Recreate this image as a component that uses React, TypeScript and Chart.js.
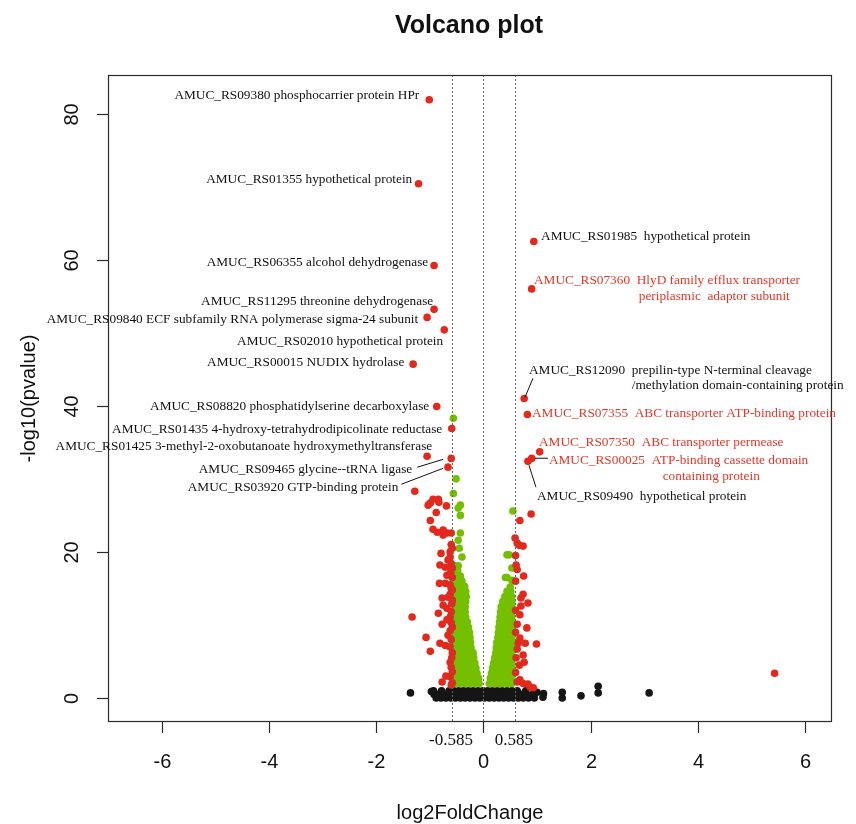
import React, { useEffect, useRef } from "react";
import { Chart, registerables } from "chart.js";

Chart.register(...registerables);

// ---------- data ----------
const xTicks = [-6, -4, -2, 0, 2, 4, 6];
const yTicks = [0, 20, 40, 60, 80];
const thresholds = [-0.585, 0, 0.585];
const thresholdTexts: [number, string][] = [
  [-0.585, "-0.585"],
  [0.585, "0.585"],
];

// red = |log2FC| > 0.585 and significant
const redPoints: [number, number][] = [
  [-1.01, 81.9], [-1.21, 70.4], [-0.92, 59.2], [-0.92, 53.2], [-1.05, 52.1], [-0.73, 50.4],
  [-1.31, 45.7], [-0.87, 39.9], [-0.59, 36.9], [-1.05, 33.1], [-0.6, 32.8], [-0.66, 31.6],
  [-1.28, 28.3],
  [0.94, 62.5], [0.9, 56.0], [0.76, 41.0], [0.82, 38.8], [1.05, 33.7], [0.9, 32.8], [0.83, 32.4],
  [-0.99, 26.7], [-0.94, 27.2], [-0.84, 27.2], [-0.83, 26.8], [-1.03, 26.4], [-0.69, 26.3],
  [-0.88, 25.4], [-0.99, 24.3], [-0.94, 23.1], [-0.86, 22.7], [-0.75, 23.0], [-0.68, 22.6],
  [-0.6, 22.6], [-0.75, 22.3], [-0.79, 19.8], [-0.58, 20.5], [-0.62, 19.3], [-0.66, 18.9],
  [-0.81, 18.2], [-0.71, 17.9], [-0.58, 17.8], [-0.68, 16.8], [-0.58, 16.5], [-0.82, 15.7],
  [-0.71, 15.7], [-0.62, 15.5], [-0.58, 14.8], [-0.66, 13.8], [-0.77, 13.7], [-0.58, 13.4],
  [-0.75, 12.7], [-0.68, 12.3], [-0.84, 11.6], [-0.6, 11.8], [-1.33, 11.1], [-0.62, 11.1],
  [-0.68, 10.7], [-0.77, 10.1], [-0.58, 9.7], [-0.66, 8.6], [-1.07, 8.3], [-0.81, 7.5],
  [-0.71, 7.2], [-0.62, 7.0], [-0.99, 6.4], [-0.58, 6.2], [-0.62, 4.9], [-0.58, 3.6],
  [-0.77, 2.2], [-0.62, 2.9], [-0.58, 2.1],
  [-0.6, 21.0], [-0.62, 20.0], [-0.6, 18.4], [-0.61, 17.2], [-0.6, 15.0], [-0.62, 14.2],
  [-0.59, 12.9], [-0.6, 10.3], [-0.62, 9.2], [-0.6, 8.0], [-0.59, 5.5], [-0.6, 4.2],
  [-0.6, 1.8], [-0.7, 3.0],
  [0.89, 25.2], [0.68, 24.3], [0.59, 21.9], [0.63, 21.2], [0.74, 20.8], [0.67, 20.9],
  [0.61, 18.2], [0.63, 17.6], [0.75, 16.7], [0.74, 14.2], [0.7, 13.7], [0.83, 13.0],
  [0.7, 12.6], [0.68, 11.4], [0.63, 10.1], [0.81, 9.6], [0.68, 8.2], [0.65, 7.5],
  [0.78, 7.5], [0.99, 7.4], [0.63, 6.7], [0.74, 5.9], [0.76, 4.9], [0.67, 4.5],
  [0.63, 2.2], [0.74, 2.0], [0.83, 1.9], [0.93, 1.4], [0.87, 1.5], [0.6, 19.5],
  [0.6, 16.0], [0.6, 12.0], [0.6, 9.0], [0.61, 5.5], [0.6, 3.5], [0.68, 2.5],
  [5.43, 3.4],
];

// green = significant but |log2FC| < 0.585 ; rows of [y, x-values]
const greenLeftRows: [number, number[]][] = [
  [2.0, [-0.53, -0.44, -0.35, -0.26, -0.17, -0.08]],
  [2.7, [-0.53, -0.44, -0.35, -0.26, -0.17, -0.09]],
  [3.4, [-0.53, -0.44, -0.35, -0.26, -0.18, -0.12]],
  [4.1, [-0.53, -0.44, -0.35, -0.26, -0.19, -0.14]],
  [4.8, [-0.53, -0.44, -0.35, -0.27, -0.2, -0.16]],
  [5.5, [-0.53, -0.44, -0.35, -0.27, -0.21, -0.18]],
  [6.2, [-0.53, -0.44, -0.36, -0.28, -0.22, -0.19]],
  [6.9, [-0.53, -0.44, -0.36, -0.29, -0.23]],
  [7.6, [-0.53, -0.45, -0.37, -0.3, -0.24]],
  [8.3, [-0.53, -0.45, -0.37, -0.3, -0.25]],
  [9.0, [-0.53, -0.45, -0.37, -0.31, -0.26]],
  [9.7, [-0.53, -0.45, -0.38, -0.32, -0.28]],
  [10.4, [-0.53, -0.45, -0.38, -0.33, -0.3]],
  [11.1, [-0.53, -0.45, -0.38, -0.33]],
  [11.8, [-0.53, -0.46, -0.39, -0.34]],
  [12.5, [-0.53, -0.46, -0.39, -0.34]],
  [13.2, [-0.53, -0.46, -0.39, -0.33]],
  [13.9, [-0.53, -0.46, -0.39, -0.32]],
  [14.6, [-0.53, -0.46, -0.39, -0.33]],
  [15.3, [-0.53, -0.46, -0.39, -0.35]],
  [16.0, [-0.53, -0.46, -0.4]],
  [16.7, [-0.53, -0.47, -0.43]],
  [17.4, [-0.53, -0.48]],
  [18.1, [-0.52, -0.47]],
];
const greenRightRows: [number, number[]][] = [
  [2.0, [0.11, 0.19, 0.27, 0.35, 0.44, 0.53]],
  [2.7, [0.13, 0.21, 0.29, 0.37, 0.45, 0.53]],
  [3.4, [0.15, 0.23, 0.31, 0.38, 0.46, 0.53]],
  [4.1, [0.17, 0.25, 0.32, 0.39, 0.46, 0.53]],
  [4.8, [0.19, 0.26, 0.33, 0.4, 0.47, 0.53]],
  [5.5, [0.21, 0.28, 0.35, 0.42, 0.48, 0.53]],
  [6.2, [0.23, 0.31, 0.39, 0.46, 0.53]],
  [6.9, [0.24, 0.32, 0.4, 0.47, 0.53]],
  [7.6, [0.25, 0.33, 0.41, 0.48, 0.53]],
  [8.3, [0.27, 0.34, 0.41, 0.48, 0.53]],
  [9.0, [0.28, 0.35, 0.42, 0.48, 0.53]],
  [9.7, [0.29, 0.36, 0.43, 0.49, 0.53]],
  [10.4, [0.3, 0.37, 0.44, 0.5, 0.53]],
  [11.1, [0.31, 0.38, 0.45, 0.53]],
  [11.8, [0.32, 0.39, 0.46, 0.53]],
  [12.5, [0.33, 0.4, 0.47, 0.53]],
  [13.2, [0.36, 0.44, 0.53]],
  [13.9, [0.4, 0.47, 0.53]],
  [14.6, [0.44, 0.51]],
];
const greenSparse: [number, number][] = [
  [-0.4, 19.3], [-0.45, 20.5], [-0.47, 21.6], [-0.43, 22.6], [-0.43, 25.0], [-0.47, 26.0],
  [-0.43, 26.4], [-0.56, 28.0], [-0.51, 30.0], [-0.56, 38.3],
  [0.5, 15.2], [0.53, 16.1], [0.41, 16.5], [0.44, 16.5], [0.53, 17.8], [0.48, 19.6],
  [0.44, 19.6], [0.55, 25.6],
];

// black = not significant ; rows of [y, x-values]
const blackRows: [number, number[]][] = [
  [0.0, [-0.88, -0.79, -0.7, -0.61, -0.52, -0.43, -0.34, -0.25, -0.16, -0.07, 0.02, 0.11, 0.2, 0.29, 0.38, 0.47, 0.56, 0.65, 0.74, 0.84, 0.95]],
  [0.5, [-0.92, -0.83, -0.72, -0.63, -0.54, -0.45, -0.36, -0.27, -0.18, -0.09, 0.0, 0.09, 0.18, 0.27, 0.36, 0.45, 0.54, 0.62, 0.71, 0.8, 0.92]],
  [1.0, [-0.93, -0.78, -0.64, -0.55, -0.46, -0.37, -0.28, -0.19, -0.1, -0.01, 0.08, 0.17, 0.26, 0.35, 0.44, 0.53, 0.63, 0.79]],
];
const blackSparse: [number, number][] = [
  [-1.36, 0.7], [-0.97, 0.9], [1.11, 0.1], [1.12, 0.6], [1.0, 0.8], [1.47, 0.8], [1.47, 0.0],
  [1.82, 0.3], [2.14, 1.6], [2.14, 0.7], [3.09, 0.7],
];

// gene annotations: [text, x, y, align, red?]
const geneLabels: [string, number, number, "left" | "right", boolean][] = [
  ["AMUC_RS09380 phosphocarrier protein HPr", -1.196, 82.46, "right", false],
  ["AMUC_RS01355 hypothetical protein", -1.327, 70.97, "right", false],
  ["AMUC_RS06355 alcohol dehydrogenase", -1.029, 59.62, "right", false],
  ["AMUC_RS11295 threonine dehydrogenase", -0.936, 54.29, "right", false],
  ["AMUC_RS09840 ECF subfamily RNA polymerase sigma-24 subunit", -1.215, 51.83, "right", false],
  ["AMUC_RS02010 hypothetical protein", -0.75, 48.82, "right", false],
  ["AMUC_RS00015 NUDIX hydrolase", -1.475, 45.95, "right", false],
  ["AMUC_RS08820 phosphatidylserine decarboxylase", -1.01, 39.93, "right", false],
  ["AMUC_RS01435 4-hydroxy-tetrahydrodipicolinate reductase", -0.768, 36.79, "right", false],
  ["AMUC_RS01425 3-methyl-2-oxobutanoate hydroxymethyltransferase", -0.954, 34.46, "right", false],
  ["AMUC_RS09465 glycine--tRNA ligase", -1.327, 31.32, "right", false],
  ["AMUC_RS03920 GTP-binding protein", -1.587, 28.85, "right", false],
  ["AMUC_RS01985  hypothetical protein", 1.075, 63.18, "left", false],
  ["AMUC_RS07360  HlyD family efflux transporter", 0.943, 57.16, "left", true],
  ["periplasmic  adaptor subunit", 2.897, 54.97, "left", true],
  ["AMUC_RS12090  prepilin-type N-terminal cleavage", 0.85, 44.85, "left", false],
  ["/methylation domain-containing protein", 2.766, 42.8, "left", false],
  ["AMUC_RS07355  ABC transporter ATP-binding protein", 0.906, 38.97, "left", true],
  ["AMUC_RS07350  ABC transporter permease", 1.036, 35.01, "left", true],
  ["AMUC_RS00025  ATP-binding cassette domain", 1.222, 32.55, "left", true],
  ["containing protein", 3.343, 30.36, "left", true],
  ["AMUC_RS09490  hypothetical protein", 0.999, 27.62, "left", false],
];
// leader lines: [x1, y1, x2, y2]
const leaderLines: [number, number, number, number][] = [
  [-1.234, 31.59, -0.75, 32.68],
  [-1.531, 29.26, -0.75, 31.45],
  [0.924, 43.76, 0.775, 41.16],
  [0.961, 32.82, 1.203, 32.82],
  [0.85, 31.86, 0.98, 28.85],
];

const RED = "#E3291C";
const RED_TEXT = "#E5362A";
const GREEN = "#74C000";
const BLACK = "#151515";
const SANS = '"Liberation Sans", Arial, sans-serif';
const SERIF = '"Liberation Serif", "Times New Roman", serif';

function fromRows(rows: [number, number[]][]) {
  const out: { x: number; y: number }[] = [];
  rows.forEach(([y, xs]) => xs.forEach((x) => out.push({ x, y })));
  return out;
}
const toXY = (pts: [number, number][]) => pts.map(([x, y]) => ({ x, y }));

const overlayPlugin = {
  id: "volcanoOverlay",
  afterDatasetsDraw(chart: any) {
    const { ctx, chartArea: a, scales } = chart;
    const xs = scales.x;
    const ys = scales.y;
    ctx.save();

    // threshold lines
    ctx.strokeStyle = "#666";
    ctx.lineWidth = 1;
    ctx.setLineDash([2, 2]);
    thresholds.forEach((t) => {
      const px = Math.round(xs.getPixelForValue(t)) + 0.5;
      ctx.beginPath();
      ctx.moveTo(px, a.top);
      ctx.lineTo(px, a.bottom);
      ctx.stroke();
    });
    ctx.setLineDash([]);

    // box
    ctx.strokeStyle = "#2a2a2a";
    ctx.lineWidth = 1.2;
    ctx.strokeRect(a.left + 0.5, a.top + 0.5, a.right - a.left - 1, a.bottom - a.top - 1);

    // x axis ticks
    ctx.fillStyle = "#111";
    ctx.font = `20px ${SANS}`;
    ctx.textAlign = "center";
    ctx.textBaseline = "alphabetic";
    xTicks.forEach((t) => {
      const px = Math.round(xs.getPixelForValue(t)) + 0.5;
      ctx.beginPath();
      ctx.moveTo(px, a.bottom);
      ctx.lineTo(px, a.bottom + 11);
      ctx.stroke();
      ctx.fillText(String(t), px, a.bottom + 46);
    });
    // y axis ticks
    yTicks.forEach((t) => {
      const py = Math.round(ys.getPixelForValue(t)) + 0.5;
      ctx.beginPath();
      ctx.moveTo(a.left, py);
      ctx.lineTo(a.left - 11, py);
      ctx.stroke();
      ctx.save();
      ctx.translate(a.left - 30, py);
      ctx.rotate(-Math.PI / 2);
      ctx.fillText(String(t), 0, 0);
      ctx.restore();
    });

    // threshold texts
    ctx.font = `17px ${SERIF}`;
    thresholdTexts.forEach(([v, s]) => {
      ctx.fillText(s, xs.getPixelForValue(v) - 1, a.bottom + 23);
    });

    // axis titles
    const cx = (a.left + a.right) / 2;
    ctx.font = `20px ${SANS}`;
    ctx.fillText("log2FoldChange", cx, 819);
    ctx.save();
    ctx.translate(35, (a.top + a.bottom) / 2);
    ctx.rotate(-Math.PI / 2);
    ctx.fillText("-log10(pvalue)", 0, 0);
    ctx.restore();

    // title
    ctx.font = `bold 25px ${SANS}`;
    ctx.fillText("Volcano plot", cx - 1, 33);

    // leader lines
    ctx.strokeStyle = "#111";
    ctx.lineWidth = 1;
    leaderLines.forEach(([x1, y1, x2, y2]) => {
      ctx.beginPath();
      ctx.moveTo(xs.getPixelForValue(x1), ys.getPixelForValue(y1));
      ctx.lineTo(xs.getPixelForValue(x2), ys.getPixelForValue(y2));
      ctx.stroke();
    });

    // gene labels
    ctx.font = `13.3px ${SERIF}`;
    ctx.textBaseline = "middle";
    geneLabels.forEach(([text, x, y, align, red]) => {
      ctx.textAlign = align;
      ctx.fillStyle = red ? RED_TEXT : "#111";
      ctx.fillText(text, xs.getPixelForValue(x), ys.getPixelForValue(y));
    });

    ctx.restore();
  },
};

export default function App() {
  const ref = useRef<HTMLCanvasElement>(null);
  useEffect(() => {
    if (!ref.current) return;
    const pointStyle = { pointRadius: 3.8, pointBorderWidth: 0, pointHoverRadius: 3.8 };
    const chart = new Chart(ref.current, {
      type: "scatter",
      data: {
        datasets: [
          {
            label: "up/down",
            data: toXY(redPoints),
            backgroundColor: RED,
            borderColor: RED,
            order: 0,
            ...pointStyle,
          },
          {
            label: "small FC",
            data: [...fromRows(greenLeftRows), ...fromRows(greenRightRows), ...toXY(greenSparse)],
            backgroundColor: GREEN,
            borderColor: GREEN,
            order: 1,
            ...pointStyle,
          },
          {
            label: "ns",
            data: [...fromRows(blackRows), ...toXY(blackSparse)],
            backgroundColor: BLACK,
            borderColor: BLACK,
            order: 2,
            ...pointStyle,
          },
        ],
      },
      options: {
        responsive: false,
        animation: false,
        events: [],
        layout: { padding: { left: 108, top: 75, right: 24, bottom: 102 } },
        plugins: { legend: { display: false }, tooltip: { enabled: false } },
        scales: {
          x: { type: "linear", min: -7, max: 6.5, display: false },
          y: { type: "linear", min: -3.28, max: 85.28, display: false },
        },
      },
      plugins: [overlayPlugin],
    });
    return () => chart.destroy();
  }, []);
  return (
    <div style={{ position: "fixed", left: 0, top: 0, width: 856, height: 824, background: "#fff" }}>
      <canvas ref={ref} width={856} height={824} style={{ display: "block" }} />
    </div>
  );
}
